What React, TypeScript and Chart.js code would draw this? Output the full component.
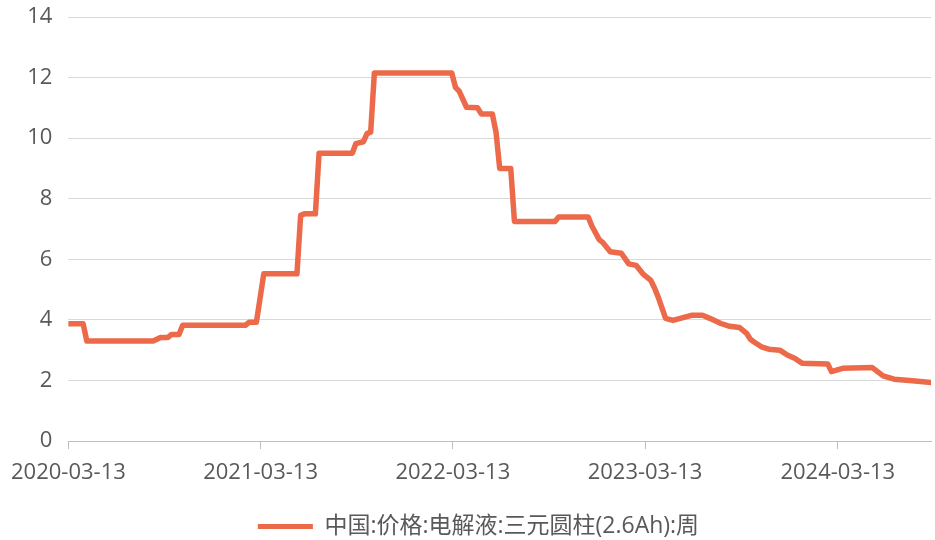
import React, { useEffect, useRef } from "react";
import { Chart, registerables } from "chart.js";

Chart.register(...registerables);

// Week index counted from 2020-03-13 (weekly series)
const weeks = [
  0, 4, 5, 23, 25, 27, 28, 30, 31, 48, 49, 51, 53, 62, 63, 64, 67, 68, 77, 78,
  80, 81, 82, 83, 104, 105, 106, 108, 111, 112, 115, 116, 117, 120, 121, 132,
  133, 141, 142, 144, 145, 146, 147, 150, 152, 154, 156, 158, 159, 160, 162,
  164, 166, 169, 172, 174, 177, 179, 182, 184, 185, 186, 188, 190, 193, 195,
  197, 199, 206, 207, 210, 218, 221, 224, 229, 234,
];
const values = [
  3.87, 3.87, 3.3, 3.3, 3.42, 3.42, 3.52, 3.52, 3.82, 3.82, 3.92, 3.92, 5.52,
  5.52, 7.45, 7.5, 7.5, 9.5, 9.5, 9.82, 9.88, 10.15, 10.2, 12.15, 12.15, 11.68,
  11.55, 11.02, 11.0, 10.8, 10.8, 10.2, 9.0, 9.0, 7.25, 7.25, 7.4, 7.4, 7.1,
  6.65, 6.55, 6.4, 6.25, 6.2, 5.85, 5.8, 5.5, 5.3, 5.05, 4.75, 4.05, 3.98, 4.05,
  4.15, 4.15, 4.05, 3.88, 3.8, 3.75, 3.55, 3.36, 3.27, 3.11, 3.03, 3.0, 2.84,
  2.73, 2.57, 2.54, 2.29, 2.4, 2.43, 2.15, 2.04, 1.99, 1.93,
];
const startDate = "2020-03-13";
const tickLabels = ["2020-03-13", "2021-03-13", "2022-03-13", "2023-03-13", "2024-03-13"];
const seriesName = "中国:价格:电解液:三元圆柱(2.6Ah):周";
const yTicks = [0, 2, 4, 6, 8, 10, 12, 14];

const COLOR = "#EC6A4A";
const TEXT = "#595959";
const FONT = "'Open Sans', 'Noto Sans CJK SC', sans-serif";

const dayOffset = (s: string) =>
  Math.round((Date.parse(s + "T00:00:00Z") - Date.parse(startDate + "T00:00:00Z")) / 86400000);

export default function App() {
  const ref = useRef<HTMLCanvasElement>(null);
  useEffect(() => {
    if (!ref.current) return;
    const tickDays = tickLabels.map(dayOffset);
    const pts = weeks.map((w, i) => ({ x: w * 7, y: values[i] }));
    const chart = new Chart(ref.current, {
      type: "line",
      data: {
        datasets: [
          {
            label: seriesName,
            data: pts,
            borderColor: COLOR,
            backgroundColor: COLOR,
            borderWidth: 5.5,
            pointRadius: 0,
            tension: 0,
            borderJoinStyle: "round",
            borderCapStyle: "round",
          },
        ],
      },
      options: {
        animation: false,
        responsive: false,
        layout: { padding: { left: 26, right: 4, top: 17, bottom: -8 } },
        scales: {
          x: {
            type: "linear",
            min: 0,
            max: weeks[weeks.length - 1] * 7,
            afterBuildTicks: (scale: any) => {
              scale.ticks = tickDays.map((v) => ({ value: v }));
            },
            afterFit: (scale: any) => {
              scale.height = 68;
            },
            ticks: {
              autoSkip: false,
              maxRotation: 0,
              padding: 11,
              color: TEXT,
              font: { family: FONT, size: 22 },
              callback: (_v: any, i: number) => tickLabels[i],
            },
            grid: {
              drawOnChartArea: false,
              drawTicks: true,
              tickLength: 8,
              color: "#BFBFBF",
            },
            border: { display: true, color: "#BFBFBF" },
          },
          y: {
            min: 0,
            max: 14,
            afterBuildTicks: (scale: any) => {
              scale.ticks = yTicks.map((v) => ({ value: v }));
            },
            afterFit: (scale: any) => {
              scale.width = 42;
              scale.paddingTop = 0;
              scale.paddingBottom = 0;
            },
            ticks: {
              padding: 16,
              color: TEXT,
              font: { family: FONT, size: 22 },
            },
            grid: { drawTicks: false, color: "#D9D9D9" },
            border: { display: false },
          },
        },
        plugins: {
          tooltip: { enabled: false },
          legend: {
            position: "bottom",
            labels: {
              boxWidth: 55,
              boxHeight: 5,
              padding: 6,
              color: TEXT,
              font: { family: FONT, size: 23, lineHeight: 1 },
              generateLabels: (c: any) =>
                (Chart.defaults.plugins.legend.labels as any)
                  .generateLabels(c)
                  .map((l: any) => ({ ...l, lineWidth: 0, fillStyle: COLOR })),
            },
          },
        },
      },
    } as any);
    return () => chart.destroy();
  }, []);
  return (
    <div style={{ position: "absolute", left: 0, top: 0, width: 935, height: 540, background: "#fff" }}>
      <canvas ref={ref} width={935} height={540} />
    </div>
  );
}
